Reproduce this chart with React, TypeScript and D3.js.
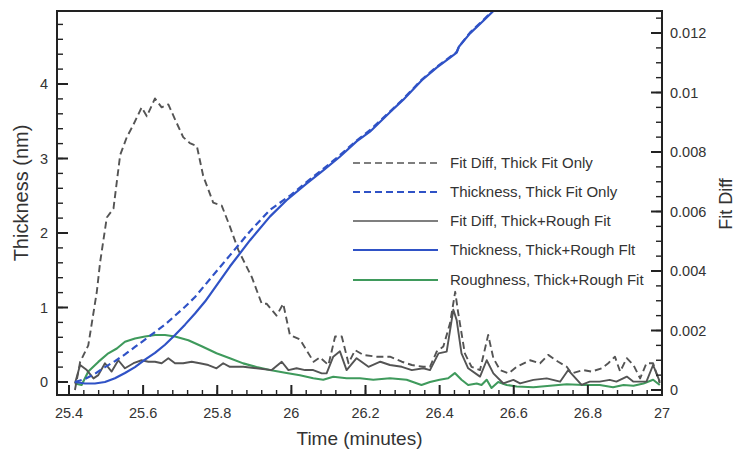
import React from "react";
import * as d3 from "d3";

// ---- data (time in minutes) ----
const fitDiffThickOnly: [number, number][] = [
  [25.416, 0], [25.43, 0.00094], [25.452, 0.0015], [25.475, 0.0033], [25.484, 0.0043],
  [25.502, 0.0058], [25.52, 0.0061], [25.538, 0.0079], [25.556, 0.0085], [25.573, 0.0089],
  [25.596, 0.0095], [25.61, 0.0092], [25.632, 0.0098], [25.65, 0.0095], [25.668, 0.0096],
  [25.686, 0.0091], [25.708, 0.0085], [25.726, 0.0083], [25.745, 0.0082], [25.762, 0.0072],
  [25.789, 0.0063], [25.812, 0.0062], [25.834, 0.0055], [25.857, 0.0047], [25.893, 0.0038],
  [25.92, 0.0029], [25.933, 0.0029], [25.96, 0.0025], [25.978, 0.0029], [25.996, 0.00185],
  [26.023, 0.0017], [26.06, 0.00095], [26.077, 0.0011], [26.1, 0.00084], [26.118, 0.0018],
  [26.136, 0.0018], [26.154, 0.0009], [26.172, 0.00134], [26.194, 0.00118], [26.23, 0.00112],
  [26.266, 0.00112], [26.298, 0.00095], [26.325, 0.00084], [26.356, 0.00078], [26.374, 0.00078],
  [26.392, 0.00129], [26.41, 0.00146], [26.428, 0.00224], [26.442, 0.0033], [26.45, 0.0026],
  [26.468, 0.00123], [26.486, 0.00078], [26.509, 0.00067], [26.531, 0.00185], [26.545, 0.00107],
  [26.563, 0.00067], [26.586, 0.00056], [26.608, 0.00078], [26.644, 0.001], [26.671, 0.0009],
  [26.693, 0.00118], [26.72, 0.00095], [26.743, 0.00078], [26.756, 0.00056], [26.788, 0.00067],
  [26.81, 0.00062], [26.837, 0.00073], [26.855, 0.0009], [26.873, 0.00112], [26.887, 0.00062],
  [26.905, 0.00107], [26.923, 0.00084], [26.941, 0.00039], [26.958, 0.0009], [26.976, 0.0009],
  [26.994, 0.00023],
];

const fitDiffThickRough: [number, number][] = [
  [25.416, 0.00022], [25.43, 0.00084], [25.448, 0.00067], [25.466, 0.00039], [25.479, 0.0005],
  [25.497, 0.0009], [25.515, 0.00062], [25.533, 0.001], [25.551, 0.00073], [25.574, 0.0009],
  [25.596, 0.001], [25.614, 0.00095], [25.632, 0.00095], [25.65, 0.0009], [25.668, 0.00107],
  [25.686, 0.0009], [25.708, 0.0009], [25.731, 0.00095], [25.753, 0.0009], [25.776, 0.00084],
  [25.798, 0.00073], [25.816, 0.0009], [25.834, 0.00078], [25.87, 0.00078], [25.906, 0.00073],
  [25.947, 0.00067], [25.974, 0.00095], [25.992, 0.00067], [26.014, 0.00073], [26.037, 0.00067],
  [26.059, 0.00067], [26.082, 0.00056], [26.095, 0.00056], [26.113, 0.00112], [26.131, 0.0013],
  [26.149, 0.00067], [26.176, 0.00107], [26.208, 0.00078], [26.24, 0.00095], [26.266, 0.00084],
  [26.298, 0.00078], [26.325, 0.00067], [26.356, 0.00073], [26.374, 0.00067], [26.397, 0.00123],
  [26.419, 0.00129], [26.437, 0.0027], [26.446, 0.00235], [26.459, 0.00123], [26.477, 0.00073],
  [26.509, 0.00045], [26.527, 0.001], [26.545, 0.00056], [26.572, 0.00022], [26.599, 0.00034],
  [26.617, 0.00022], [26.653, 0.00034], [26.689, 0.00039], [26.725, 0.00028], [26.747, 0.00067],
  [26.783, 0.00017], [26.805, 0.00028], [26.832, 0.00028], [26.859, 0.00034], [26.877, 0.00028],
  [26.905, 0.00045], [26.923, 0.00028], [26.958, 0.00028], [26.976, 0.00084], [26.994, 0.00028],
];

const thicknessThickOnly: [number, number][] = [
  [25.416, 0], [25.443, 0.04], [25.47, 0.11], [25.497, 0.2], [25.524, 0.28], [25.551, 0.37],
  [25.578, 0.47], [25.605, 0.57], [25.632, 0.67], [25.659, 0.77], [25.686, 0.89], [25.713, 1.01],
  [25.74, 1.14], [25.78, 1.38], [25.834, 1.7], [25.888, 2.02], [25.942, 2.31], [25.996, 2.5],
  [26.04, 2.68], [26.086, 2.86], [26.13, 3.04], [26.176, 3.24], [26.212, 3.38], [26.266, 3.63],
  [26.302, 3.8], [26.352, 4.06], [26.392, 4.23], [26.43, 4.37], [26.446, 4.43], [26.452, 4.5],
  [26.482, 4.69], [26.518, 4.86], [26.545, 4.99], [26.56, 5.05],
];

const thicknessThickRough: [number, number][] = [
  [25.416, 0], [25.443, -0.02], [25.47, -0.02], [25.497, 0.0], [25.524, 0.05], [25.551, 0.12],
  [25.578, 0.2], [25.605, 0.3], [25.632, 0.39], [25.659, 0.5], [25.686, 0.63], [25.713, 0.77],
  [25.74, 0.92], [25.767, 1.08], [25.78, 1.17], [25.834, 1.55], [25.888, 1.9], [25.942, 2.22],
  [25.987, 2.44], [26.04, 2.66], [26.086, 2.84], [26.13, 3.02], [26.176, 3.23], [26.212, 3.36],
  [26.266, 3.62], [26.302, 3.79], [26.352, 4.05], [26.392, 4.22], [26.43, 4.36], [26.446, 4.42],
  [26.452, 4.5], [26.482, 4.68], [26.518, 4.85], [26.545, 4.98], [26.56, 5.05],
];

const roughnessThickRough: [number, number][] = [
  [25.416, -0.02], [25.434, -0.04], [25.452, 0.14], [25.479, 0.27], [25.506, 0.385], [25.529, 0.45],
  [25.551, 0.54], [25.578, 0.585], [25.605, 0.61], [25.632, 0.63], [25.659, 0.63], [25.686, 0.61],
  [25.722, 0.56], [25.758, 0.48], [25.798, 0.385], [25.834, 0.32], [25.87, 0.25], [25.906, 0.2],
  [25.942, 0.16], [25.987, 0.12], [26.023, 0.09], [26.059, 0.05], [26.086, 0.03], [26.113, 0.07],
  [26.149, 0.05], [26.185, 0.05], [26.221, 0.03], [26.266, 0.05], [26.311, 0.03], [26.351, -0.04],
  [26.374, 0.0], [26.4, 0.03], [26.423, 0.05], [26.441, 0.12], [26.459, 0.03], [26.477, -0.04],
  [26.5, -0.02], [26.513, -0.04], [26.527, 0.03], [26.54, -0.08], [26.558, 0.0], [26.581, -0.04],
  [26.608, -0.06], [26.653, -0.07], [26.698, -0.05], [26.743, -0.03], [26.788, -0.04], [26.832, -0.04],
  [26.868, -0.07], [26.896, -0.04], [26.923, -0.05], [26.95, -0.02], [26.976, 0.03], [26.994, -0.04],
];

const xMajorTicks = [25.4, 25.6, 25.8, 26, 26.2, 26.4, 26.6, 26.8, 27];
const leftMajorTicks = [0, 1, 2, 3, 4];
const rightMajorTicks = [0, 0.002, 0.004, 0.006, 0.008, 0.01, 0.012];

const legendLabels = [
  "Fit Diff, Thick Fit Only",
  "Thickness, Thick Fit Only",
  "Fit Diff, Thick+Rough Fit",
  "Thickness, Thick+Rough Flt",
  "Roughness, Thick+Rough Fit",
];

const GRAY = "#545454";
const BLUE = "#2f52c6";
const GREEN = "#3f9a5c";

export default function App() {
  const W = 739, H = 450;
  const L = 57, R = 662, T = 11, B = 395;
  const x = d3.scaleLinear().domain([25.3676, 27]).range([L, R]);
  const yL = d3.scaleLinear().domain([-0.1745, 4.98]).range([B, T]);
  const yR = d3.scaleLinear().domain([-0.000168, 0.01274]).range([B, T]);

  const lineL = d3.line<[number, number]>().x(d => x(d[0])).y(d => yL(d[1]));
  const lineR = d3.line<[number, number]>().x(d => x(d[0])).y(d => yR(d[1]));

  const xMinor = d3.range(0, 41).map(i => 25.4 + i * 0.04).filter(v => v <= 27.0001);
  const leftMinor = d3.range(0, 25).map(i => i * 0.2);
  const rightMinor = d3.range(0, 26).map(i => i * 0.0005);

  const font = "'Liberation Sans', Arial, Helvetica, sans-serif";
  const series = [
    { d: lineR(fitDiffThickOnly), c: GRAY, dash: "7,4", w: 1.9 },
    { d: lineL(thicknessThickOnly), c: BLUE, dash: "7,4", w: 2.2 },
    { d: lineR(fitDiffThickRough), c: GRAY, dash: null, w: 1.9 },
    { d: lineL(thicknessThickRough), c: BLUE, dash: null, w: 2.2 },
    { d: lineL(roughnessThickRough), c: GREEN, dash: null, w: 2.1 },
  ];
  const drawOrder = [4, 2, 0, 1, 3];
  const legendY = [163, 192, 221, 250, 280];

  return (
    <svg width={W} height={H} style={{ position: "absolute", left: 0, top: 0, background: "#fff" }} fontFamily={font}>
      <defs>
        <clipPath id="plotclip">
          <rect x={L} y={T} width={R - L} height={B - T} />
        </clipPath>
      </defs>
      <rect x={0} y={0} width={W} height={H} fill="#fff" />
      {/* lines */}
      <g clipPath="url(#plotclip)" fill="none" strokeLinejoin="round">
        {drawOrder.map(i => (
          <path key={i} d={series[i].d || ""} stroke={series[i].c} strokeWidth={series[i].w}
            strokeDasharray={series[i].dash || undefined} />
        ))}
      </g>
      {/* legend */}
      {legendLabels.map((lab, i) => (
        <g key={lab}>
          <line x1={353} x2={438} y1={legendY[i]} y2={legendY[i]} stroke={series[i].c}
            strokeWidth={series[i].w - 0.2} strokeDasharray={series[i].dash || undefined} />
          <text x={450} y={legendY[i] + 5} fontSize={15} fill="#333">{lab}</text>
        </g>
      ))}
      {/* ticks */}
      <g stroke="#222" strokeWidth={1.4}>
        {xMinor.map(v => <line key={"xm" + v} x1={x(v)} x2={x(v)} y1={B} y2={B - 5} />)}
        {xMajorTicks.map(v => <line key={"xM" + v} x1={x(v)} x2={x(v)} y1={B} y2={B - 10} strokeWidth={2} />)}
        {leftMinor.map(v => <line key={"lm" + v} x1={L} x2={L + 6} y1={yL(v)} y2={yL(v)} />)}
        {leftMajorTicks.map(v => <line key={"lM" + v} x1={L} x2={L + 11} y1={yL(v)} y2={yL(v)} strokeWidth={2} />)}
        {rightMinor.map(v => <line key={"rm" + v} x1={R} x2={R - 6} y1={yR(v)} y2={yR(v)} />)}
        {rightMajorTicks.map(v => <line key={"rM" + v} x1={R} x2={R - 11} y1={yR(v)} y2={yR(v)} strokeWidth={2} />)}
      </g>
      <rect x={L} y={T} width={R - L} height={B - T} fill="none" stroke="#222" strokeWidth={2} />
      {/* tick labels */}
      <g fontSize={14.5} fill="#333">
        {xMajorTicks.map(v => (
          <text key={"xt" + v} x={x(v)} y={418} textAnchor="middle">{d3.format("~g")(v)}</text>
        ))}
        {leftMajorTicks.map(v => (
          <text key={"lt" + v} x={48} y={yL(v) + 5} textAnchor="end">{v}</text>
        ))}
        {rightMajorTicks.map(v => (
          <text key={"rt" + v} x={670} y={yR(v) + 5} textAnchor="start">{d3.format("~g")(v)}</text>
        ))}
      </g>
      {/* axis titles */}
      <text x={359.5} y={445} textAnchor="middle" fontSize={19} fill="#333">Time (minutes)</text>
      <text transform={`translate(28,193) rotate(-90)`} textAnchor="middle" fontSize={20} fill="#333">Thickness (nm)</text>
      <text transform={`translate(732,204) rotate(-90)`} textAnchor="middle" fontSize={18} fill="#333">Fit Diff</text>
    </svg>
  );
}
